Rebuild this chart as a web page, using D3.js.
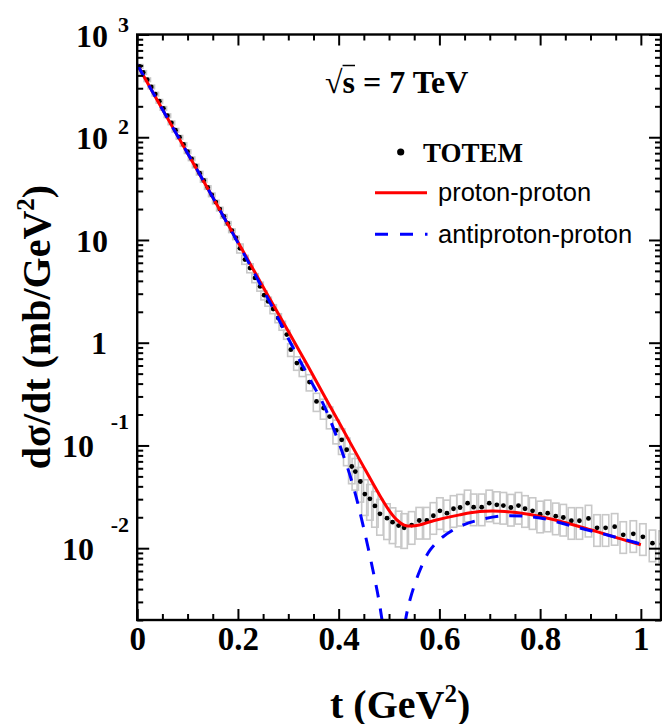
<!DOCTYPE html>
<html>
<head>
<meta charset="utf-8">
<title>TOTEM 7 TeV</title>
<style>
body { margin: 0; background: #fff; }
svg text { font-family: "Liberation Serif", "Times New Roman", serif; font-weight: bold; }
</style>
<script src="https://cdnjs.cloudflare.com/ajax/libs/d3/7.8.5/d3.min.js"></script>
</head>
<body>
<script>
// proton-proton (red, solid)
var tPP = [0, 0.05, 0.1, 0.15, 0.2, 0.24, 0.27, 0.3, 0.337, 0.37, 0.4, 0.443, 0.482, 0.5, 0.515, 0.53, 0.545, 0.56, 0.59, 0.64, 0.68, 0.72, 0.77, 0.83, 0.9, 0.965, 1.0];
var sigPP = [510, 187, 70, 26, 9.55, 4.27, 2.34, 1.29, 0.617, 0.313, 0.17, 0.0708, 0.0324, 0.0234, 0.019, 0.0168, 0.0164, 0.0168, 0.0186, 0.0211, 0.0227, 0.0229, 0.0216, 0.0188, 0.0151, 0.0121, 0.0108];

// antiproton-proton (blue, dashed)
var tPbar = [0, 0.05, 0.1, 0.15, 0.2, 0.234, 0.27, 0.3, 0.343, 0.37, 0.403, 0.429, 0.449, 0.469, 0.482, 0.495, 0.508, 0.52, 0.532, 0.542, 0.562, 0.581, 0.608, 0.648, 0.681, 0.72, 0.767, 0.8, 0.866, 0.932, 1.0];
var sigPbar = [510, 187, 70, 26, 9.4, 4.6, 2.15, 1.1, 0.44, 0.25, 0.098, 0.04, 0.0162, 0.0058, 0.0027, 0.0009, 0.00015, 0.0006, 0.0019, 0.0032, 0.0062, 0.0095, 0.013, 0.0169, 0.0189, 0.0205, 0.0205, 0.0197, 0.0163, 0.0135, 0.011];

// TOTEM data
var tData = [0.005, 0.012, 0.02, 0.028, 0.036, 0.044, 0.052, 0.06, 0.068, 0.076, 0.084, 0.092, 0.1, 0.108, 0.116, 0.124, 0.132, 0.14, 0.148, 0.156, 0.164, 0.172, 0.18, 0.188, 0.196,
  0.204, 0.214, 0.224, 0.234, 0.244, 0.252, 0.26, 0.27, 0.28, 0.288, 0.297, 0.305, 0.317, 0.328, 0.342, 0.356, 0.37, 0.382, 0.395,
  0.406, 0.416, 0.426, 0.433, 0.443, 0.452, 0.462, 0.472, 0.482, 0.496, 0.507, 0.519, 0.53, 0.545, 0.56, 0.575, 0.588, 0.601, 0.615, 0.628,
  0.641, 0.656, 0.668, 0.684, 0.699, 0.714, 0.727, 0.742, 0.757, 0.77, 0.785, 0.8, 0.815, 0.831, 0.846, 0.862, 0.878, 0.896, 0.913, 0.93,
  0.948, 0.965, 0.985, 1.004, 1.023, 1.042];
var sigData = [490, 427, 363, 309, 263, 224, 191, 162, 138, 117, 100, 85, 72.4, 61.7, 52.5, 44.7, 38.0, 32.4, 27.5, 23.4, 20.0, 17.0, 14.5, 12.3, 10.5,
  8.3, 6.44, 5.33, 4.27, 3.53, 2.9, 2.52, 2.13, 1.74, 1.47, 1.2, 0.855, 0.634, 0.558, 0.414, 0.268, 0.231, 0.191, 0.14,
  0.1135, 0.0908, 0.0624, 0.0557, 0.0446, 0.0336, 0.0302, 0.0258, 0.0216, 0.0196, 0.0179, 0.0166, 0.0158, 0.0168, 0.0186, 0.0186, 0.0207, 0.0231, 0.0219, 0.0242,
  0.0249, 0.0274, 0.0251, 0.0251, 0.0274, 0.0264, 0.026, 0.0249, 0.026, 0.0242, 0.0231, 0.0214, 0.0219, 0.0205, 0.0199, 0.0185, 0.0185, 0.0195, 0.0158, 0.0158,
  0.0162, 0.0135, 0.0138, 0.0129, 0.0112, 0.011];
// relative errors (fraction of value)
var errData = [0.04, 0.04, 0.04, 0.04, 0.04, 0.04, 0.04, 0.04, 0.04, 0.04, 0.04, 0.04, 0.04, 0.04, 0.04, 0.04, 0.04, 0.04, 0.04, 0.04, 0.04, 0.04, 0.04, 0.04, 0.04,
  0.1, 0.1, 0.1, 0.1, 0.1, 0.1, 0.1, 0.1, 0.1, 0.1, 0.1, 0.14, 0.15, 0.16, 0.18, 0.2, 0.22, 0.24, 0.26,
  0.28, 0.3, 0.32, 0.34, 0.37, 0.38, 0.38, 0.38, 0.38, 0.38, 0.38, 0.38, 0.37, 0.35, 0.34, 0.34, 0.34, 0.34, 0.34, 0.34,
  0.34, 0.34, 0.34, 0.34, 0.34, 0.34, 0.34, 0.34, 0.34, 0.34, 0.34, 0.34, 0.34, 0.34, 0.34, 0.34, 0.34, 0.34, 0.34, 0.34,
  0.34, 0.34, 0.34, 0.34, 0.34, 0.34];

var xTicks = [0, 0.2, 0.4, 0.6, 0.8, 1];
var yDecades = [-2, -1, 0, 1, 2, 3];

var w = 662, h = 724;
var mL = 137.2, mR = 661, mT = 34.5, mB = 620;

var x = d3.scaleLinear().domain([0, 1.04]).range([mL, mR]);
var y = d3.scaleLog().domain([0.002, 1000]).range([mB, mT]);

var svg = d3.select("body").append("svg")
    .attr("width", w)
    .attr("height", h);

svg.append("clipPath").attr("id", "plotclip")
  .append("rect")
    .attr("x", mL).attr("y", mT)
    .attr("width", mR - mL).attr("height", mB - mT);

var plot = svg.append("g").attr("clip-path", "url(#plotclip)");

var pts = tData.map(function(t, i){ return {t: t, v: sigData[i], e: errData[i]}; });

// error boxes
plot.selectAll(".box")
    .data(pts)
    .enter()
    .append("rect")
    .attr("class", "box")
    .attr("x", function(d){ return x(d.t) - 3.2; })
    .attr("width", 6.4)
    .attr("y", function(d){ return y(d.v * (1 + d.e)); })
    .attr("height", function(d){ return y(d.v * (1 - d.e)) - y(d.v * (1 + d.e)); })
    .attr("fill", "none")
    .attr("stroke", "#c8c8c8")
    .attr("stroke-width", 1.6);

plot.selectAll(".dot")
    .data(pts)
    .enter()
    .append("circle")
    .attr("class", "dot")
    .attr("cx", function(d){ return x(d.t); })
    .attr("cy", function(d){ return y(d.v); })
    .attr("r", 2.4)
    .attr("fill", "#000");

var line = d3.line()
    .x(function(d){ return x(d[0]); })
    .y(function(d){ return y(d[1]); })
    .curve(d3.curveCatmullRom.alpha(0.5));

plot.append("path")
    .datum(tPP.map(function(t, i){ return [t, sigPP[i]]; }))
    .attr("d", line)
    .attr("fill", "none")
    .attr("stroke", "#ff0000")
    .attr("stroke-width", 3);

plot.append("path")
    .datum(tPbar.map(function(t, i){ return [t, sigPbar[i]]; }))
    .attr("d", line)
    .attr("fill", "none")
    .attr("stroke", "#0000ff")
    .attr("stroke-width", 3)
    .attr("stroke-dasharray", "13,11");

// axes (ticks inward)
var xMinor = d3.range(0, 1.041, 0.05).filter(function(v){ return Math.abs(v * 5 - Math.round(v * 5)) > 1e-6; });
var yAll = y.ticks();
var yMajor = yDecades.map(function(k){ return Math.pow(10, k); });
var yMinor = yAll.filter(function(v){ return Math.abs(Math.log10(v) - Math.round(Math.log10(v))) > 1e-6; });

function axisStyle(g) {
  g.select(".domain").remove();
  g.selectAll("line").attr("stroke", "#000").attr("stroke-width", 2);
}

svg.append("g").attr("transform", "translate(0," + mB + ")")
    .call(d3.axisBottom(x).tickValues(xMinor).tickSize(-6).tickFormat(""))
    .call(axisStyle);
svg.append("g").attr("transform", "translate(0," + mT + ")")
    .call(d3.axisTop(x).tickValues(xMinor).tickSize(-6).tickFormat(""))
    .call(axisStyle);
svg.append("g").attr("transform", "translate(0," + mT + ")")
    .call(d3.axisTop(x).tickValues(xTicks).tickSize(-11).tickFormat(""))
    .call(axisStyle);
var xAx = svg.append("g").attr("transform", "translate(0," + mB + ")")
    .call(d3.axisBottom(x).tickValues(xTicks).tickSize(-11).tickPadding(7)
      .tickFormat(function(d){ return String(+d.toFixed(1)); }))
    .call(axisStyle);
xAx.selectAll("text")
    .attr("fill", "#000")
    .style("font-family", "'Liberation Serif', serif")
    .style("font-weight", "bold")
    .style("font-size", "33px");

svg.append("g").attr("transform", "translate(" + mL + ",0)")
    .call(d3.axisLeft(y).tickValues(yMinor).tickSize(-6).tickFormat(""))
    .call(axisStyle);
svg.append("g").attr("transform", "translate(" + mL + ",0)")
    .call(d3.axisLeft(y).tickValues(yMajor).tickSize(-12).tickFormat(""))
    .call(axisStyle);
svg.append("g").attr("transform", "translate(" + mR + ",0)")
    .call(d3.axisRight(y).tickValues(yMinor).tickSize(-6).tickFormat(""))
    .call(axisStyle);
svg.append("g").attr("transform", "translate(" + mR + ",0)")
    .call(d3.axisRight(y).tickValues(yMajor).tickSize(-12).tickFormat(""))
    .call(axisStyle);

svg.append("rect")
    .attr("x", mL).attr("y", mT)
    .attr("width", mR - mL).attr("height", mB - mT)
    .attr("fill", "none")
    .attr("stroke", "#000")
    .attr("stroke-width", 2.4);

// y tick labels: 10 with exponent
yDecades.forEach(function(k){
  var yy = y(Math.pow(10, k));
  if (k == 0) {
    svg.append("text").attr("x", 107).attr("y", yy + 11)
      .attr("text-anchor", "end").style("font-size", "32px").text("1");
    return;
  }
  var base = k < 0 ? 94 : 108;
  svg.append("text").attr("x", base).attr("y", yy + 12)
    .attr("text-anchor", "end").style("font-size", "32px").text("10");
  if (k == 1) return;
  svg.append("text").attr("x", 129).attr("y", k < 0 ? yy - 16 : yy - 3)
    .attr("text-anchor", "end").style("font-size", "22px").text(String(k));
});

// axis titles
var xt = svg.append("text").attr("x", 330).attr("y", 718).style("font-size", "40px");
xt.append("tspan").text("t (GeV");
xt.append("tspan").attr("dy", -16).style("font-size", "25px").text("2");
xt.append("tspan").attr("dy", 16).text(")");

var yt = svg.append("text")
    .attr("transform", "translate(50,327) rotate(-90)")
    .attr("text-anchor", "middle")
    .style("font-size", "40px");
yt.append("tspan").text("d\u03c3/dt (mb/GeV");
yt.append("tspan").attr("dy", -16).style("font-size", "25px").text("2");
yt.append("tspan").attr("dy", 16).text(")");

// energy label
var st = svg.append("text").attr("x", 325).attr("y", 93).style("font-size", "32px")
    .text("\u221as = 7 TeV");
var ex = st.node().getExtentOfChar(1);
svg.append("line")
    .attr("x1", ex.x).attr("x2", ex.x + ex.width)
    .attr("y1", ex.y + 1.5).attr("y2", ex.y + 1.5)
    .attr("stroke", "#000").attr("stroke-width", 1.5);

// legend
svg.append("circle").attr("cx", 400.7).attr("cy", 152).attr("r", 3.6).attr("fill", "#000");
svg.append("text").attr("x", 423).attr("y", 161.5).style("font-size", "27px").text("TOTEM");

svg.append("line").attr("x1", 375).attr("x2", 427).attr("y1", 192.7).attr("y2", 192.7)
    .attr("stroke", "#ff0000").attr("stroke-width", 3);
svg.append("text").attr("x", 438).attr("y", 201)
    .style("font-family", "'Liberation Sans', Arial, sans-serif").style("font-weight", "normal")
    .style("font-size", "25.5px").text("proton-proton");

svg.append("line").attr("x1", 375).attr("x2", 427.5).attr("y1", 234.3).attr("y2", 234.3)
    .attr("stroke", "#0000ff").attr("stroke-width", 3).attr("stroke-dasharray", "13,12");
svg.append("text").attr("x", 438).attr("y", 242.5)
    .style("font-family", "'Liberation Sans', Arial, sans-serif").style("font-weight", "normal")
    .style("font-size", "25.5px").text("antiproton-proton");
</script>
</body>
</html>
